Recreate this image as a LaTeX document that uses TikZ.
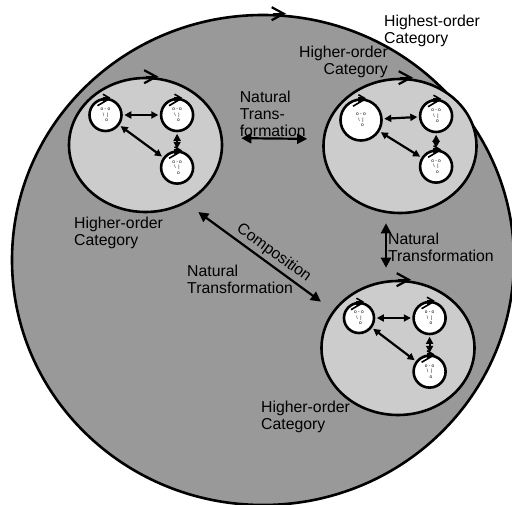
\documentclass[tikz,border=0pt]{standalone}
\usepackage{fontspec}
\setmainfont{Liberation Sans}
\usetikzlibrary{shapes.geometric,arrows.meta,positioning,calc}

\definecolor{outergray}{RGB}{153,153,153}
\definecolor{innergray}{RGB}{204,204,204}

\begin{document}
\begin{tikzpicture}[
    x=1pt, y=-1pt,
    world/.style={ellipse, draw, line width=2.6pt, fill=outergray, minimum width=502pt, minimum height=490pt, inner sep=0pt},
    cat/.style={ellipse, draw, line width=2.6pt, fill=innergray, minimum width=153pt, minimum height=134pt, inner sep=0pt},
    obj/.style={circle, draw, line width=2.6pt, fill=white, minimum size=32pt, inner sep=0pt, align=center, font=\fontsize{4.8}{5.4}\selectfont},
    dbl/.style={{Triangle[length=10pt,width=10pt]}-{Triangle[length=10pt,width=10pt]}, line width=2.2pt},
    sdbl/.style={{Triangle[length=7pt,width=7pt]}-{Triangle[length=7pt,width=7pt]}, line width=2.2pt, shorten <=1.5pt, shorten >=1.5pt},
    chev/.style={-{Straight Barb[length=12pt,width=13pt]}, line width=2.2pt},
    schev/.style={-{Straight Barb[length=6pt,width=7pt]}, line width=1.6pt},
    lbl/.style={align=left, inner sep=1pt, font=\fontsize{15.8}{17}\selectfont},
]
\clip (0,0) rectangle (512,505);

% Highest-order category
\node[world] (top) at (263,260) {};

% Higher-order categories
\node[cat] (catL) at (145.5,145) {};
\node[cat] (catR) at (400,146) {};
\node[cat] (catB) at (398,348) {};

% objects in the left category
\node[obj] (a1) at ($(catL)+(-40,-30)$) {o - o\\\textbackslash\ \ |\\\ \ o};
\node[obj, right=37pt of a1] (a2) {o - o\\\textbackslash\ \ |\\\ \ o};
\node[obj, below=18pt of a2] (a3) {o - o\\\textbackslash\ \ |\\\ \ o};

% objects in the right category
\node[obj, minimum size=41pt] (b1) at ($(catR)+(-39,-26)$) {o - o\\\textbackslash\ \ |\\\ \ o};
\node[obj, right=36pt of b1, yshift=4pt] (b2) {o - o\\\textbackslash\ \ |\\\ \ o};
\node[obj, below=16pt of b2] (b3) {o - o\\\textbackslash\ \ |\\\ \ o};

% objects in the bottom category
\node[obj, minimum size=30pt] (c1) at ($(catB)+(-39,-30)$) {o - o\\\textbackslash\ \ |\\\ \ o};
\node[obj, right=37pt of c1] (c2) {o - o\\\textbackslash\ \ |\\\ \ o};
\node[obj, below=19pt of c2] (c3) {o - o\\\textbackslash\ \ |\\\ \ o};

% morphisms
\foreach \p/\q in {a1/a2, a2/a3, a1/a3, b1/b2, b2/b3, b1/b3, c1/c2, c2/c3, c1/c3}
    \draw[sdbl] (\p) -- (\q);

% identity marks
\foreach \o in {a1,a2,a3,b1,b2,b3,c1,c2,c3} {
    \draw[line width=1.6pt] ($(\o.north)+(-8,8)$) -- ($(\o.north)+(4,1)$);
    \draw[schev] ($(\o.north)+(-3,0)$) -- ($(\o.north)+(5,0)$);
}
\draw[chev] ([xshift=10pt]top.north) -- ([xshift=23pt]top.north);
\foreach \c in {catL,catR,catB}
    \draw[chev] ([xshift=0pt]\c.north) -- ([xshift=13pt]\c.north);

% natural transformations
\draw[dbl, shorten <=18pt, shorten >=15pt] ([yshift=7pt]catL.east) -- node[lbl, above] {Natural\\Trans-\\formation} ([yshift=7pt]catR.west);
\draw[dbl, shorten <=9pt, shorten >=12pt] ([xshift=-14pt]catR.south) -- node[lbl, right] {Natural\\Transformation} ([xshift=-12pt]catB.north);
\draw[dbl, shorten <=15pt, shorten >=15pt] (catL.-55) -- node[lbl, above=2pt, sloped, pos=0.55] {Composition} (catB.150);

% labels
\node[lbl, anchor=north west] (hiLbl) at (383,14) {Highest-order\\Category};
\node[lbl, align=right, anchor=north east] (rLbl) at (389,45) {Higher-order\\Category};
\node[lbl, anchor=north west] (lLbl) at (73,216) {Higher-order\\Category};
\node[lbl, anchor=north west] (bLbl) at (260,400) {Higher-order\\Category};
\node[lbl, anchor=north west] (ntLbl) at (186,264) {Natural\\Transformation};

\end{tikzpicture}
\end{document}
